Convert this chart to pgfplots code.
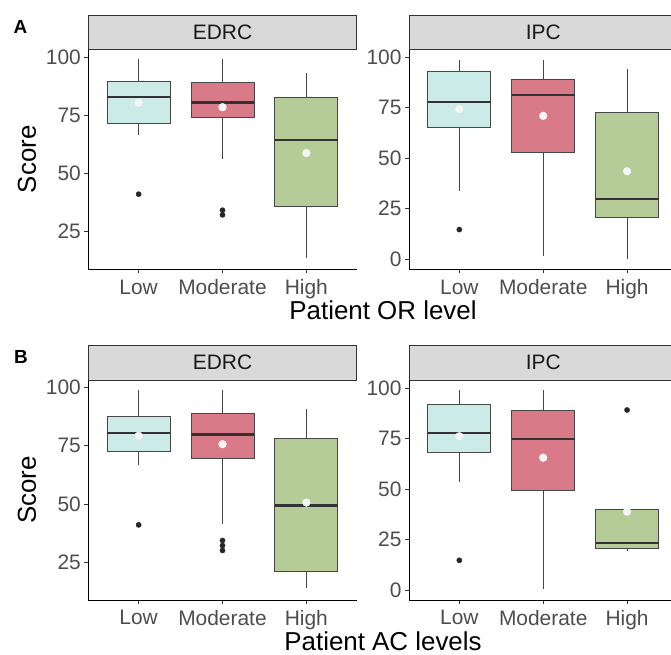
\documentclass[border=0pt]{standalone}
\usepackage{fontspec}
\setmainfont{Liberation Sans}
\usepackage{pgfplots}
\pgfplotsset{compat=1.18}
\usepgfplotslibrary{statistics}

\definecolor{lowc}{RGB}{204,234,232}
\definecolor{modc}{RGB}{216,122,136}
\definecolor{highc}{RGB}{182,204,152}
\definecolor{stripc}{RGB}{217,217,217}
\definecolor{boxline}{RGB}{70,70,70}
\definecolor{tickgrey}{RGB}{77,77,77}

\pgfplotsset{
  facet/.style={
    scale only axis, width=268.4bp, height=220bp,
    axis lines*=left,
    axis line style={black, line width=0.9bp},
    xmin=0.4, xmax=3.6,
    xtick={1,2,3}, xticklabels={Low,Moderate,High},
    tick align=outside, major tick length=4bp,
    tick style={color=black!80, line width=0.9bp},
    ticklabel style={font=\fontsize{21}{24}\selectfont, text=tickgrey},
    xticklabel style={yshift=-3bp},
    /pgf/number format/assume math mode=true,
    boxplot/draw direction=y,
    boxplot/box extend=0.75,
    boxplot/whisker extend=0,
    boxplot/every box/.style={draw=boxline, line width=0.9bp},
    boxplot/every whisker/.style={draw=boxline, line width=0.9bp},
    boxplot/every median/.style={draw=black!80, line width=2.2bp},
  },
  edrc/.style={ymin=8.7, ymax=103.3, ytick={25,50,75,100}},
  ipc/.style={ymin=-4.95, ymax=103.95, ytick={0,25,50,75,100}},
  outl/.style={mark=*, mark size=2.6bp, mark options={fill=black!85, draw=black!85}},
  meanpt/.style={only marks, mark=*, mark size=3.9bp, color=white!96!black},
}

\begin{document}
\begin{tikzpicture}
\path[use as bounding box] (0,0) rectangle (671bp,655bp);

% ---------------- Row A, EDRC ----------------
\begin{axis}[facet, edrc, at={(88.3bp,385.7bp)}, anchor=south west]
\addplot[boxplot prepared={lower whisker=66.6, lower quartile=71.3, median=82.9, upper quartile=89.6, upper whisker=99, draw position=1}, fill=lowc, draw=boxline, outl] coordinates {(1,41)};
\addplot[boxplot prepared={lower whisker=56.1, lower quartile=74.1, median=80.4, upper quartile=89, upper whisker=99, draw position=2}, fill=modc, draw=boxline, outl] coordinates {(2,34.1) (2,32.1)};
\addplot[boxplot prepared={lower whisker=13.6, lower quartile=35.6, median=64.4, upper quartile=82.4, upper whisker=93.1, draw position=3}, fill=highc, draw=boxline, outl] coordinates {};
\addplot[meanpt] coordinates {(1,80.3) (2,78.4) (3,58.7)};
\end{axis}

% ---------------- Row A, IPC ----------------
\begin{axis}[facet, ipc, at={(409bp,385.7bp)}, anchor=south west]
\addplot[boxplot prepared={lower whisker=34, lower quartile=65.2, median=77.9, upper quartile=93.1, upper whisker=98.8, draw position=1}, fill=lowc, draw=boxline, outl] coordinates {(1,14.7)};
\addplot[boxplot prepared={lower whisker=1.8, lower quartile=53.0, median=81.4, upper quartile=88.9, upper whisker=98.8, draw position=2}, fill=modc, draw=boxline, outl] coordinates {};
\addplot[boxplot prepared={lower whisker=0.3, lower quartile=20.5, median=30.0, upper quartile=72.9, upper whisker=94.4, draw position=3}, fill=highc, draw=boxline, outl] coordinates {};
\addplot[meanpt] coordinates {(1,74.3) (2,71.0) (3,43.6)};
\end{axis}

% ---------------- Row B, EDRC ----------------
\begin{axis}[facet, edrc, at={(88.3bp,55bp)}, anchor=south west]
\addplot[boxplot prepared={lower whisker=66.6, lower quartile=72.6, median=80.4, upper quartile=87.7, upper whisker=99, draw position=1}, fill=lowc, draw=boxline, outl] coordinates {(1,41)};
\addplot[boxplot prepared={lower whisker=41.4, lower quartile=69.7, median=79.9, upper quartile=89, upper whisker=99, draw position=2}, fill=modc, draw=boxline, outl] coordinates {(2,34.3) (2,32.1) (2,30)};
\addplot[boxplot prepared={lower whisker=13.7, lower quartile=21.1, median=49.3, upper quartile=78, upper whisker=91, draw position=3}, fill=highc, draw=boxline, outl] coordinates {};
\addplot[meanpt] coordinates {(1,79.3) (2,75.7) (3,50.6)};
\end{axis}

% ---------------- Row B, IPC ----------------
\begin{axis}[facet, ipc, at={(409bp,55bp)}, anchor=south west]
\addplot[boxplot prepared={lower whisker=53.3, lower quartile=68.3, median=77.9, upper quartile=91.7, upper whisker=98.8, draw position=1}, fill=lowc, draw=boxline, outl] coordinates {(1,14.7)};
\addplot[boxplot prepared={lower whisker=0.3, lower quartile=49.5, median=74.9, upper quartile=88.8, upper whisker=98.8, draw position=2}, fill=modc, draw=boxline, outl] coordinates {};
\addplot[boxplot prepared={lower whisker=19.5, lower quartile=20.8, median=23.3, upper quartile=40.1, upper whisker=40.1, draw position=3}, fill=highc, draw=boxline, outl] coordinates {(3,89.1)};
\addplot[meanpt] coordinates {(1,76.1) (2,65.5) (3,38.8)};
\end{axis}

% ---------------- strips ----------------
\begin{scope}[line width=0.9bp]
\draw[fill=stripc, draw=black!80] (88.3bp,605.7bp) rectangle (356.7bp,640bp);
\draw[fill=stripc, draw=black!80] (409bp,605.7bp) rectangle (677.4bp,640bp);
\draw[fill=stripc, draw=black!80] (88.3bp,275bp) rectangle (356.7bp,310bp);
\draw[fill=stripc, draw=black!80] (409bp,275bp) rectangle (677.4bp,310bp);
\end{scope}
\begin{scope}[font=\fontsize{21}{24}\selectfont, text=black!90]
\node at (222.5bp,622.85bp) {EDRC};
\node at (543.2bp,622.85bp) {IPC};
\node at (222.5bp,292.5bp) {EDRC};
\node at (543.2bp,292.5bp) {IPC};
\end{scope}

% ---------------- labels ----------------
\node[font=\fontsize{19}{21}\selectfont\bfseries] at (20.5bp,628.3bp) {A};
\node[font=\fontsize{19}{21}\selectfont\bfseries] at (21bp,298bp) {B};
\node[font=\fontsize{26}{30}\selectfont, rotate=90] at (27bp,495.7bp) {Score};
\node[font=\fontsize{26}{30}\selectfont, rotate=90] at (27bp,165bp) {Score};
\node[font=\fontsize{26}{30}\selectfont, anchor=base] at (383bp,335bp) {Patient OR level};
\node[font=\fontsize{26}{30}\selectfont, anchor=base] at (383bp,4.5bp) {Patient AC levels};
\end{tikzpicture}
\end{document}
